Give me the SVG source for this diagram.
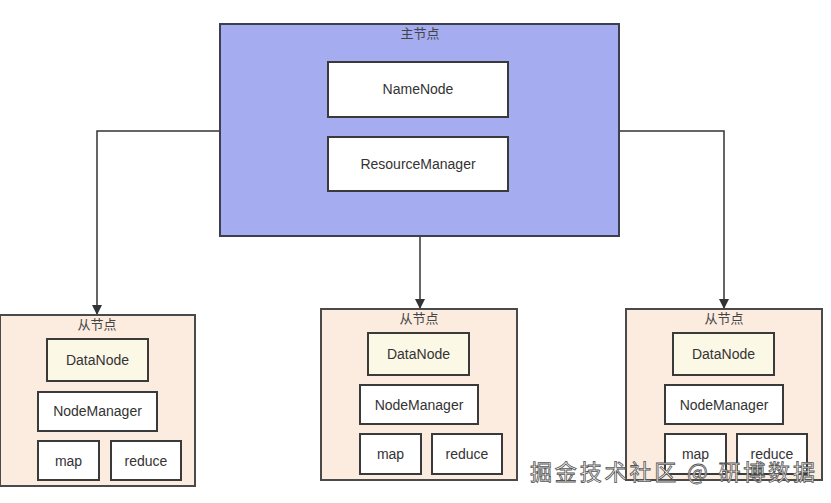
<svg xmlns="http://www.w3.org/2000/svg" width="831" height="503" viewBox="0 0 831 503">
<style>
.t{font-family:"Liberation Sans","Noto Sans CJK SC",sans-serif;font-size:14px;fill:#333;text-anchor:middle}
.h{font-family:"Noto Sans CJK SC","Liberation Sans",sans-serif;font-size:13px;fill:#444;text-anchor:middle}
.main{fill:#a5adf0;stroke:#3c3f4e;stroke-width:2}
.slave{fill:#fcebdf;stroke:#4a4a4a;stroke-width:2}
.w{fill:#fff;stroke:#3a3a3a;stroke-width:2}
.dn{fill:#fcf8e6;stroke:#3a3a3a;stroke-width:2}
.c{fill:none;stroke:#333;stroke-width:1.5}
.wm{font-family:"Noto Sans CJK SC",sans-serif;font-size:22px;fill:#fff;stroke:#555;stroke-width:0.8}
</style>
<defs>
<marker id="arr" viewBox="0 0 10 10" refX="9" refY="5" markerWidth="10" markerHeight="10" markerUnits="userSpaceOnUse" orient="auto">
<path d="M0,0 L10,5 L0,10 Z" fill="#333"/>
</marker>
</defs>
<rect width="831" height="503" fill="#fff"/>
<g id="connectors">
<path class="c" d="M220,131 H97 V314" marker-end="url(#arr)"/>
<path class="c" d="M420,236 V308" marker-end="url(#arr)"/>
<path class="c" d="M619,131 H724 V308" marker-end="url(#arr)"/>
</g>
<g id="master">
<rect class="main" x="220" y="24" width="399" height="212"/>
<text class="h" x="420" y="38">主节点</text>
<g id="namenode"><rect class="w" x="328" y="62" width="180" height="55"/><text class="t" x="418" y="94">NameNode</text></g>
<g id="resourcemanager"><rect class="w" x="328" y="137" width="180" height="54"/><text class="t" x="418" y="169">ResourceManager</text></g>
</g>
<g id="slave1">
<rect class="slave" x="0" y="315" width="195" height="171"/>
<text class="h" x="97" y="329">从节点</text>
<g id="dn1"><rect class="dn" x="47" y="339" width="101" height="42"/><text class="t" x="97.5" y="365">DataNode</text></g>
<g id="nm1"><rect class="w" x="38" y="392" width="119" height="39"/><text class="t" x="97.5" y="416">NodeManager</text></g>
<g id="map1"><rect class="w" x="38" y="441" width="61" height="39"/><text class="t" x="68.5" y="466">map</text></g>
<g id="reduce1"><rect class="w" x="111" y="441" width="70" height="39"/><text class="t" x="146" y="466">reduce</text></g>
</g>
<g id="slave2">
<rect class="slave" x="321" y="309" width="196" height="171"/>
<text class="h" x="419" y="323">从节点</text>
<g id="dn2"><rect class="dn" x="368" y="333" width="101" height="42"/><text class="t" x="418.5" y="359">DataNode</text></g>
<g id="nm2"><rect class="w" x="360" y="385" width="118" height="39"/><text class="t" x="419" y="410">NodeManager</text></g>
<g id="map2"><rect class="w" x="360" y="434" width="61" height="40"/><text class="t" x="390.5" y="459">map</text></g>
<g id="reduce2"><rect class="w" x="432" y="434" width="70" height="40"/><text class="t" x="467" y="459">reduce</text></g>
</g>
<g id="slave3">
<rect class="slave" x="626" y="309" width="196" height="171"/>
<text class="h" x="724" y="323">从节点</text>
<g id="dn3"><rect class="dn" x="673" y="333" width="101" height="42"/><text class="t" x="723.5" y="359">DataNode</text></g>
<g id="nm3"><rect class="w" x="665" y="385" width="118" height="39"/><text class="t" x="724" y="410">NodeManager</text></g>
<g id="map3"><rect class="w" x="665" y="434" width="61" height="40"/><text class="t" x="695.5" y="459">map</text></g>
<g id="reduce3"><rect class="w" x="737" y="434" width="70" height="40"/><text class="t" x="772" y="459">reduce</text></g>
</g>
<text class="wm" x="530" y="480" textLength="285">掘金技术社区 @ 研博数据</text>
</svg>
